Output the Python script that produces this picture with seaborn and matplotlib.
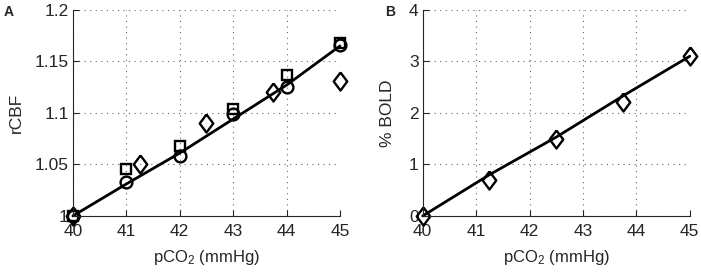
import matplotlib
matplotlib.use("Agg")
import matplotlib.pyplot as plt
import seaborn as sns
from matplotlib.ticker import FormatStrFormatter

# panel A: rCBF vs pCO2
pco2_a = [40, 41, 42, 43, 44, 45]
rcbf_circle = [1.000, 1.033, 1.058, 1.099, 1.125, 1.166]
rcbf_square = [1.000, 1.046, 1.068, 1.104, 1.137, 1.168]
pco2_diam = [40, 41.25, 42.5, 43.75, 45]
rcbf_diam = [1.000, 1.050, 1.090, 1.120, 1.131]
rcbf_fit = [1.000, 1.031, 1.061, 1.094, 1.127, 1.165]

# panel B: % BOLD vs pCO2
pco2_b = [40, 41.25, 42.5, 43.75, 45]
bold_diam = [0.0, 0.70, 1.50, 2.21, 3.10]
bold_fit = [0.0, 0.80, 1.53, 2.33, 3.10]

sns.set_style("ticks")
plt.rcParams["font.family"] = ["Liberation Sans", "DejaVu Sans"]
plt.rcParams["mathtext.fontset"] = "custom"
plt.rcParams["mathtext.rm"] = "Liberation Sans"
plt.rcParams["mathtext.it"] = "Liberation Sans"

# matlab-like diamond (a bit wider than mpl's 'd')
diamond = [(0, 1), (0.75, 0), (0, -1), (-0.75, 0), (0, 1)]

fig = plt.figure(figsize=(7.01, 2.74), dpi=100)
ax_a = fig.add_axes([0.104, 0.212, 0.381, 0.752])
ax_b = fig.add_axes([0.603, 0.212, 0.381, 0.752])

mk = dict(ls="", color="k", mfc="none", mec="k", mew=1.7)

sns.lineplot(x=pco2_a, y=rcbf_fit, color="k", lw=2.0, ax=ax_a)
sns.lineplot(x=pco2_a, y=rcbf_circle, marker="o", ms=8.5, ax=ax_a, **mk)
sns.lineplot(x=pco2_a, y=rcbf_square, marker="s", ms=7, ax=ax_a, **mk)
sns.lineplot(x=pco2_diam, y=rcbf_diam, marker=diamond, ms=13, ax=ax_a, **mk)

sns.lineplot(x=pco2_b, y=bold_fit, color="k", lw=2.0, ax=ax_b)
sns.lineplot(x=pco2_b, y=bold_diam, marker=diamond, ms=13, ax=ax_b, **mk)

for ax in (ax_a, ax_b):
    ax.set_xlim(40, 45)
    ax.set_xticks([40, 41, 42, 43, 44, 45])
    ax.set_xlabel("pCO$_2$ (mmHg)", fontsize=12, labelpad=6)
    ax.grid(True, ls=(0, (1, 4)), color="0.4", lw=0.8)
    ax.tick_params(direction="in", length=4, labelsize=12.5, width=0.8, pad=3)
    ax.tick_params(axis="x", pad=6)
    for s in ("top", "right"):
        ax.spines[s].set_visible(False)
    for s in ("left", "bottom"):
        ax.spines[s].set_linewidth(0.8)
    for ln in ax.lines:
        ln.set_clip_on(False)

ax_a.set_ylim(1.0, 1.2)
ax_a.set_yticks([1.0, 1.05, 1.1, 1.15, 1.2])
ax_a.yaxis.set_major_formatter(FormatStrFormatter("%g"))
ax_a.set_ylabel("rCBF", fontsize=12.5, labelpad=8)

ax_b.set_ylim(0, 4)
ax_b.set_yticks([0, 1, 2, 3, 4])
ax_b.set_ylabel("% BOLD", fontsize=12.5, labelpad=10)

fig.text(0.005, 0.955, "A", fontsize=10, fontweight="bold", va="center")
fig.text(0.549, 0.955, "B", fontsize=10, fontweight="bold", va="center")

fig.savefig("out.png", dpi=100)
